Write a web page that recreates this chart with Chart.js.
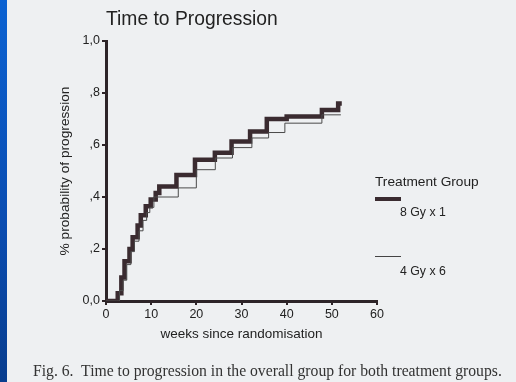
<!DOCTYPE html>
<html>
<head>
<meta charset="utf-8">
<script src="https://cdn.jsdelivr.net/npm/chart.js@4.4.1/dist/chart.umd.min.js"></script>
<style>
  body { margin: 0; background: #eef0f2; }
  #wrap { position: relative; width: 516px; height: 382px; overflow: hidden; background: #eef0f2; }
  #strip { position: absolute; left: 0; top: 0; width: 7px; height: 382px;
           background: linear-gradient(#0b62d2, #0a4cb0 60%, #083d8e); }
  canvas { position: absolute; left: 0; top: 0; }
  .txt { position: absolute; font-family: "Liberation Sans", Arial, sans-serif; color: #222; white-space: nowrap; }
  #title { left: 106px; top: 8px; font-size: 19.3px; }
  #legTitle { left: 375px; top: 174px; font-size: 13.7px; }
  .lab { font-size: 12.3px; left: 400px; }
  #caption { position: absolute; left: 33px; top: 362px; font-family: "Liberation Serif", "Times New Roman", serif;
             font-size: 15.7px; color: #333; white-space: nowrap; }
  .swatch { position: absolute; left: 375px; width: 26px; }
</style>
</head>
<body>
<div id="wrap">
  <div id="strip"></div>
  <canvas id="kmChart" width="516" height="382"></canvas>
  <div class="txt" id="title">Time to Progression</div>
  <div class="txt" id="legTitle">Treatment Group</div>
  <div class="swatch" style="top:197px;height:4px;background:#3a2b30"></div>
  <div class="txt lab" style="top:205px">8 Gy x 1</div>
  <div class="swatch" style="top:256px;height:1px;background:#444"></div>
  <div class="txt lab" style="top:264px">4 Gy x 6</div>
  <div id="caption">Fig. 6.&nbsp; Time to progression in the overall group for both treatment groups.</div>
</div>
<script>
// 8 Gy x 1 (thick line) - week of each step and probability after it
const weeks8 = [0, 2, 2.6, 3.4, 4.1, 5.2, 5.9, 7.0, 7.7, 8.8, 9.9, 11.0, 11.8, 15.6, 19.7, 24.1, 27.8, 31.9, 35.6, 40.0, 47.8, 51.4, 52.2];
const prob8  = [0, 0, 0.03, 0.09, 0.153, 0.2, 0.245, 0.29, 0.33, 0.364, 0.39, 0.415, 0.44, 0.485, 0.543, 0.57, 0.613, 0.652, 0.70, 0.71, 0.735, 0.76, 0.76];

// 4 Gy x 6 (thin line)
const weeks4 = [0, 2.3, 3.0, 3.8, 4.6, 5.5, 6.3, 7.3, 8.2, 9.0, 9.7, 10.6, 16.0, 20.0, 24.2, 28.0, 32.3, 36.0, 39.6, 47.8, 52.0];
const prob4  = [0, 0, 0.04, 0.08, 0.14, 0.19, 0.23, 0.27, 0.31, 0.34, 0.36, 0.40, 0.435, 0.505, 0.55, 0.59, 0.627, 0.648, 0.684, 0.716, 0.716];

const xTicks = [0, 10, 20, 30, 40, 50, 60];
const yTickLabels = ['0,0', ',2', ',4', ',6', ',8', '1,0'];

const toPoints = (xs, ys) => xs.map((x, i) => ({ x: x, y: ys[i] }));

const axisColor = '#2d2428';
const tickFont = { family: '"Liberation Sans", Arial, sans-serif', size: 12.5 };

new Chart(document.getElementById('kmChart'), {
    type: 'line',
    data: {
        datasets: [
            {
                label: '4 Gy x 6',
                data: toPoints(weeks4, prob4),
                borderColor: '#4a4a4a',
                borderWidth: 1,
                stepped: true,
                pointRadius: 0,
                fill: false
            },
            {
                label: '8 Gy x 1',
                data: toPoints(weeks8, prob8),
                borderColor: '#3a2b30',
                borderWidth: 4.5,
                stepped: true,
                pointRadius: 0,
                fill: false
            }
        ]
    },
    options: {
        responsive: false,
        animation: false,
        devicePixelRatio: 1,
        layout: { padding: { left: 0, right: 139, top: 41, bottom: 0 } },
        plugins: { legend: { display: false }, tooltip: { enabled: false } },
        scales: {
            x: {
                type: 'linear',
                min: 0,
                max: 60,
                afterFit: (scale) => { scale.height = 81; },
                afterBuildTicks: (scale) => { scale.ticks = xTicks.map(v => ({ value: v })); },
                border: { display: true, color: axisColor, width: 3 },
                grid: { drawOnChartArea: false, drawTicks: true, tickLength: 4, color: axisColor, lineWidth: 2 },
                ticks: { color: '#222', font: tickFont, padding: 2, maxRotation: 0 },
                title: {
                    display: true,
                    text: 'weeks since randomisation',
                    color: '#222',
                    font: { family: '"Liberation Sans", Arial, sans-serif', size: 13.5 },
                    padding: { top: 0, bottom: 40 }
                }
            },
            y: {
                min: 0,
                max: 1,
                afterFit: (scale) => { scale.width = 106; },
                border: { display: true, color: axisColor, width: 3 },
                grid: { drawOnChartArea: false, drawTicks: true, tickLength: 4, color: axisColor, lineWidth: 2 },
                ticks: {
                    stepSize: 0.2,
                    color: '#222',
                    font: tickFont,
                    padding: 2,
                    callback: (v) => yTickLabels[Math.round(v * 5)]
                },
                title: {
                    display: true,
                    text: '% probability of progression',
                    color: '#222',
                    font: { family: '"Liberation Sans", Arial, sans-serif', size: 13.7 },
                    padding: { top: 57, bottom: 0 }
                }
            }
        }
    }
});
</script>
</body>
</html>
